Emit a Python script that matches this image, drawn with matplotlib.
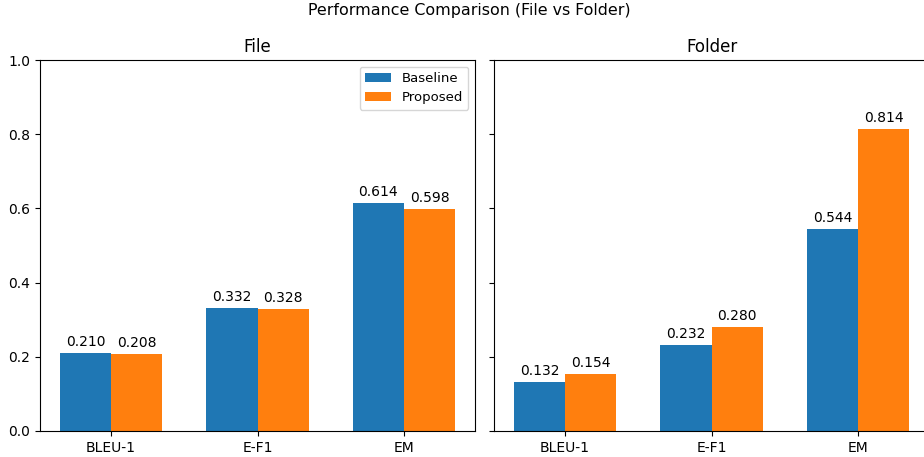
import numpy as np
import matplotlib.pyplot as plt

metrics = ['BLEU-1', 'E-F1', 'EM']
file_base = [0.210, 0.332, 0.614]
file_prop = [0.208, 0.328, 0.598]
folder_base = [0.132, 0.232, 0.544]
folder_prop = [0.154, 0.280, 0.814]

x = np.arange(len(metrics))
w = 0.35

fig = plt.figure(figsize=(9.24, 4.57), dpi=100)
ax1 = fig.add_axes([40/924, 26/457, 435/924, 371/457])
ax2 = fig.add_axes([494/924, 26/457, 435/924, 371/457], sharey=ax1)

def draw(ax, base, prop, title):
    b1 = ax.bar(x - w/2, base, w, label='Baseline')
    b2 = ax.bar(x + w/2, prop, w, label='Proposed')
    for bars in (b1, b2):
        for r in bars:
            h = r.get_height()
            ax.annotate('%.3f' % h, xy=(r.get_x() + r.get_width()/2, h),
                        xytext=(0, 3), textcoords='offset points',
                        ha='center', va='bottom')
    ax.set_xticks(x)
    ax.set_xticklabels(metrics)
    ax.set_title(title)

draw(ax1, file_base, file_prop, 'File')
draw(ax2, folder_base, folder_prop, 'Folder')
ax1.set_ylim(0, 1.0)
ax1.legend(loc='upper right', fontsize=9.5)
plt.setp(ax2.get_yticklabels(), visible=False)

fig.suptitle('Performance Comparison (File vs Folder)', x=469/924, y=1 - 10.5/457,
             va='center', fontsize=11.4)
fig.savefig('out.png')
